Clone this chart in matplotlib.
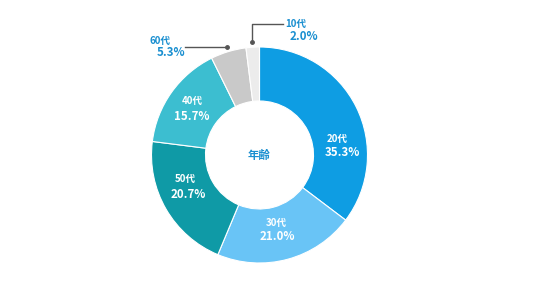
import numpy as np
import matplotlib
matplotlib.use("Agg")
import matplotlib.pyplot as plt

plt.rcParams['font.family'] = ['Noto Sans CJK JP', 'DejaVu Sans']

# データ (時計回り、上から)
ages = ["20代", "30代", "50代", "40代", "60代", "10代"]
shares = [35.3, 21.0, 20.7, 15.7, 5.3, 2.0]
colors = ["#0e9de3", "#69c4f6", "#0f9aa6", "#3cbed0", "#c9c9c9", "#ececec"]
center_label = "年齢"

W, H = 536, 302
fig = plt.figure(figsize=(W / 100, H / 100), dpi=100)
ax = fig.add_axes([0, 0, 1, 1])

cx, cy = 259.5, H - 155
R = 108
wedges, _ = ax.pie(shares, colors=colors, startangle=90, counterclock=False,
                   center=(cx, cy), radius=R, frame=True,
                   wedgeprops=dict(width=R * 0.5, edgecolor="white", linewidth=0.8))
ax.set_xlim(0, W)
ax.set_ylim(0, H)
ax.set_aspect("equal")
ax.axis("off")

blue = "#1a8fd0"
ax.text(cx, H - 155, center_label, ha="center", va="center",
        fontsize=8.2, fontweight="bold", color=blue)

# 内側ラベル (ピクセル位置)
inner_pos = {
    "20代": ((337, 139), (342, 153)),
    "30代": ((276, 223), (277, 237)),
    "50代": ((185, 179), (188, 194)),
    "40代": ((192, 101), (192, 116)),
}
for name, val in zip(ages, shares):
    if name not in inner_pos:
        continue
    (x1, y1), (x2, y2) = inner_pos[name]
    ax.text(x1, H - y1, name, ha="center", va="center", fontsize=7,
            fontweight="bold", color="white")
    ax.text(x2, H - y2, f"{val:.1f}%", ha="center", va="center", fontsize=8.3,
            fontweight="bold", color="white")

# 外側ラベルと引き出し線
def dot_at(w):
    ang = np.deg2rad((w.theta1 + w.theta2) / 2)
    return cx + (R + 5) * np.cos(ang), cy + (R + 5) * np.sin(ang)

line_c = "#555555"
w60 = wedges[ages.index("60代")]
dx, dy = dot_at(w60)
ax.plot([185, dx], [dy, dy], color=line_c, lw=1)
ax.plot(dx, dy, "o", color=line_c, ms=2.5)
ax.text(160, H - 41, "60代", ha="center", va="center", fontsize=7,
        fontweight="bold", color=blue)
ax.text(171, H - 52, "5.3%", ha="center", va="center", fontsize=8.3,
        fontweight="bold", color=blue)

w10 = wedges[ages.index("10代")]
dx, dy = dot_at(w10)
ax.plot([dx, dx, 283], [dy, H - 24, H - 24], color=line_c, lw=1)
ax.plot(dx, dy, "o", color=line_c, ms=2.5)
ax.text(296, H - 24, "10代", ha="center", va="center", fontsize=7,
        fontweight="bold", color=blue)
ax.text(304, H - 37, "2.0%", ha="center", va="center", fontsize=8.3,
        fontweight="bold", color=blue)

fig.savefig("out.png", dpi=100)
